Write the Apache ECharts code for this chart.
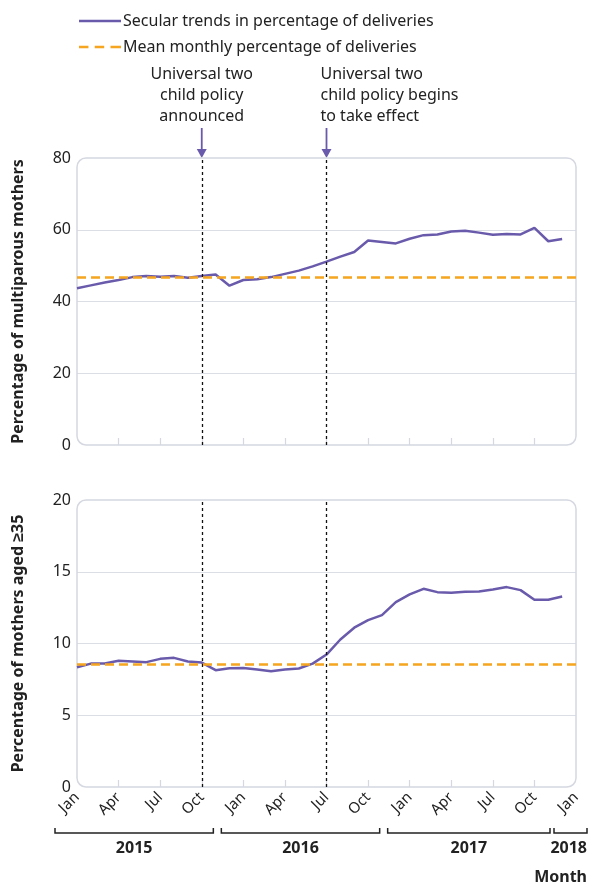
<!DOCTYPE html>
<html>
<head>
<meta charset="utf-8">
<title>Two child policy</title>
<script src="https://cdn.jsdelivr.net/npm/echarts@6/dist/echarts.min.js"></script>
<style>
  html, body { margin: 0; padding: 0; background: #fff; }
  #chart { width: 589px; height: 883px; }
</style>
</head>
<body>
<div id="chart"></div>
<script>
// ---- data ----
var years = [2015, 2016, 2017, 2018];
var monthNames = ['Jan', 'Feb', 'Mar', 'Apr', 'May', 'Jun', 'Jul', 'Aug', 'Sep', 'Oct', 'Nov', 'Dec'];

// Jan 2015 .. Dec 2017
var multiparous = [43.7, 44.5, 45.3, 46.0, 46.8, 47.1, 46.9, 47.1, 46.6, 47.1, 47.5, 44.4,
                   46.0, 46.2, 46.8, 47.7, 48.6, 49.8, 51.1, 52.5, 53.8, 57.0, 56.6, 56.2,
                   57.5, 58.5, 58.7, 59.5, 59.7, 59.2, 58.6, 58.8, 58.7, 60.5, 56.8, 57.4];
var aged35 = [8.35, 8.6, 8.6, 8.8, 8.75, 8.7, 8.93, 9.0, 8.75, 8.67, 8.14, 8.28,
              8.3, 8.19, 8.07, 8.19, 8.26, 8.6, 9.23, 10.28, 11.1, 11.63, 11.98, 12.88,
              13.42, 13.81, 13.58, 13.53, 13.6, 13.63, 13.77, 13.93, 13.72, 13.05, 13.05, 13.28];
var meanMultiparous = 46.7;
var meanAged35 = 8.53;

var topTicks = [0, 20, 40, 60, 80];
var bottomTicks = [0, 5, 10, 15, 20];
var policyMonths = ['Oct 2015', 'Jul 2016'];

// categories Jan 2015 .. Jan 2018
var categories = [];
years.forEach(function (y) {
    monthNames.forEach(function (m) {
        if (y < 2018 || m === 'Jan') categories.push(m + ' ' + y);
    });
});

var purple = '#6a5aab';
var orange = '#f5a51f';
var ink = '#222';
var boxColor = '#d5d8e1';
var fontFamily = '"Noto Sans", sans-serif';

var myChart = echarts.init(document.getElementById('chart'));

function quarterTick(i) { return i % 3 === 0 && i > 0 && i < categories.length - 1; }

function makeX(gridIndex, withLabels) {
    return {
        type: 'category', gridIndex: gridIndex, data: categories, boundaryGap: false,
        axisLine: { show: false },
        axisTick: { show: true, inside: true, length: 7, interval: function (i) { return quarterTick(i); },
            lineStyle: { color: boxColor, width: 1.2 } },
        axisLabel: withLabels ? {
            show: true, rotate: 45, margin: 8, fontSize: 15, color: ink, fontFamily: fontFamily,
            interval: function (i) { return i % 3 === 0; },
            formatter: function (v) { return v.split(' ')[0]; }
        } : { show: false },
        splitLine: { show: false }
    };
}

function makeY(gridIndex, ticks, name) {
    return {
        type: 'value', gridIndex: gridIndex, min: ticks[0], max: ticks[ticks.length - 1],
        interval: ticks[1] - ticks[0],
        name: name, nameLocation: 'middle', nameGap: 51,
        nameTextStyle: { fontSize: 16, fontWeight: 'bold', color: ink, fontFamily: fontFamily },
        axisLine: { show: false }, axisTick: { show: false },
        axisLabel: { fontSize: 16, color: ink, margin: 6, fontFamily: fontFamily },
        splitLine: { show: true, lineStyle: { color: ['rgba(0,0,0,0)', '#dcdee6', '#dcdee6', '#dcdee6', 'rgba(0,0,0,0)'], width: 1.2 } }
    };
}

function policyLines() {
    return {
        silent: true, symbol: ['none', 'none'], label: { show: false },
        lineStyle: { color: '#111', type: [3, 3], width: 1.3 },
        data: policyMonths.map(function (m) { return { xAxis: m }; })
    };
}

function meanLine(v) {
    return {
        silent: true, symbol: ['none', 'none'], label: { show: false },
        lineStyle: { color: orange, type: [9, 5], width: 2.5 },
        data: [{ yAxis: v }]
    };
}

var option = {
    animation: false,
    textStyle: { fontFamily: fontFamily },
    legend: {
        orient: 'vertical', left: 74, top: 8, itemWidth: 42, itemHeight: 14, itemGap: 10,
        textStyle: { fontSize: 16, color: ink, fontFamily: fontFamily, padding: [0, 0, 0, -3] },
        data: [
            { name: 'Secular trends in percentage of deliveries',
              icon: 'path://M0,0L40,0L40,2.5L0,2.5Z', itemStyle: { color: purple } },
            { name: 'Mean monthly percentage of deliveries',
              icon: 'path://M0,0L9,0L9,2.5L0,2.5ZM15,0L24,0L24,2.5L15,2.5ZM30,0L40,0L40,2.5L30,2.5Z',
              itemStyle: { color: orange } }
        ]
    },
    grid: [
        { left: 77, right: 13, top: 158, height: 287 },
        { left: 77, right: 13, top: 500, height: 287 }
    ],
    xAxis: [makeX(0, false), makeX(1, true)],
    yAxis: [makeY(0, topTicks, 'Percentage of multiparous mothers'),
            makeY(1, bottomTicks, 'Percentage of mothers aged \u226535')],
    series: [
        {
            name: 'Secular trends in percentage of deliveries', type: 'line', xAxisIndex: 0, yAxisIndex: 0,
            data: multiparous, symbol: 'none', lineStyle: { color: purple, width: 2.5 }, itemStyle: { color: purple },
            markLine: policyLines(), z: 3
        },
        {
            name: 'Mean monthly percentage of deliveries', type: 'line', xAxisIndex: 0, yAxisIndex: 0,
            data: [], symbol: 'none', lineStyle: { color: orange, type: [9, 5], width: 2.5 }, itemStyle: { color: orange },
            markLine: meanLine(meanMultiparous), z: 4
        },
        {
            name: 'Secular trends in percentage of deliveries', type: 'line', xAxisIndex: 1, yAxisIndex: 1,
            data: aged35, symbol: 'none', lineStyle: { color: purple, width: 2.5 }, itemStyle: { color: purple },
            markLine: policyLines(), z: 3
        },
        {
            name: 'Mean monthly percentage of deliveries', type: 'line', xAxisIndex: 1, yAxisIndex: 1,
            data: [], symbol: 'none', lineStyle: { color: orange, type: [9, 5], width: 2.5 }, itemStyle: { color: orange },
            markLine: meanLine(meanAged35), z: 4
        }
    ]
};

myChart.setOption(option);

// ---- decorations positioned through the axes ----
function px(cat, gi) { return myChart.convertToPixel({ xAxisIndex: gi }, cat); }
function py(v, gi) { return myChart.convertToPixel({ yAxisIndex: gi }, v); }

var graphics = [];
[[0, topTicks], [1, bottomTicks]].forEach(function (g) {
    var gi = g[0], t = g[1];
    var x0 = px(categories[0], gi), x1 = px(categories[categories.length - 1], gi);
    var y0 = py(t[t.length - 1], gi), y1 = py(t[0], gi);
    graphics.push({ type: 'rect', silent: true, z: 1,
        shape: { x: x0, y: y0, width: x1 - x0, height: y1 - y0, r: 9 },
        style: { fill: 'none', stroke: boxColor, lineWidth: 1.5 } });
});

// arrows and annotations
var topY = py(topTicks[topTicks.length - 1], 0);
var notes = ['Universal two\nchild policy\nannounced', 'Universal two\nchild policy begins\nto take effect'];
policyMonths.forEach(function (m, k) {
    var x = px(m, 0);
    graphics.push({ type: 'line', silent: true, shape: { x1: x, y1: topY - 30, x2: x, y2: topY - 6 },
        style: { stroke: purple, lineWidth: 1.8 } });
    graphics.push({ type: 'polygon', silent: true, shape: { points: [[x - 5, topY - 9], [x + 5, topY - 9], [x, topY]] },
        style: { fill: purple } });
    graphics.push({ type: 'text', silent: true,
        x: k === 0 ? x : x - 6, y: topY - 94,
        style: { text: notes[k], fill: ink, fontSize: 16, lineHeight: 21, fontFamily: fontFamily,
            align: k === 0 ? 'center' : 'left', verticalAlign: 'top' } });
});

// year brackets under the bottom axis
var right = 587;
years.forEach(function (y, k) {
    var a = px(categories[k * 12], 1) - 22;
    var b = k < years.length - 1 ? px(categories[Math.min(k * 12 + 12, categories.length - 1)], 1) - 30 : right;
    if (k === years.length - 2) b = px(categories[categories.length - 1], 1) - 26;
    graphics.push({ type: 'polyline', silent: true,
        shape: { points: [[a, 828], [a, 833], [b, 833], [b, 828]] },
        style: { stroke: ink, lineWidth: 1.5, fill: 'none' } });
    graphics.push({ type: 'text', silent: true, x: k === years.length - 1 ? b : (a + b) / 2, y: 848,
        style: { text: String(y), fill: ink, fontSize: 16, fontWeight: 'bold', fontFamily: fontFamily,
            align: k === years.length - 1 ? 'right' : 'center', verticalAlign: 'middle' } });
});
graphics.push({ type: 'text', silent: true, x: right, y: 877,
    style: { text: 'Month', fill: ink, fontSize: 16, fontWeight: 'bold', fontFamily: fontFamily,
        align: 'right', verticalAlign: 'middle' } });

myChart.setOption({ graphic: graphics });
</script>
</body>
</html>
